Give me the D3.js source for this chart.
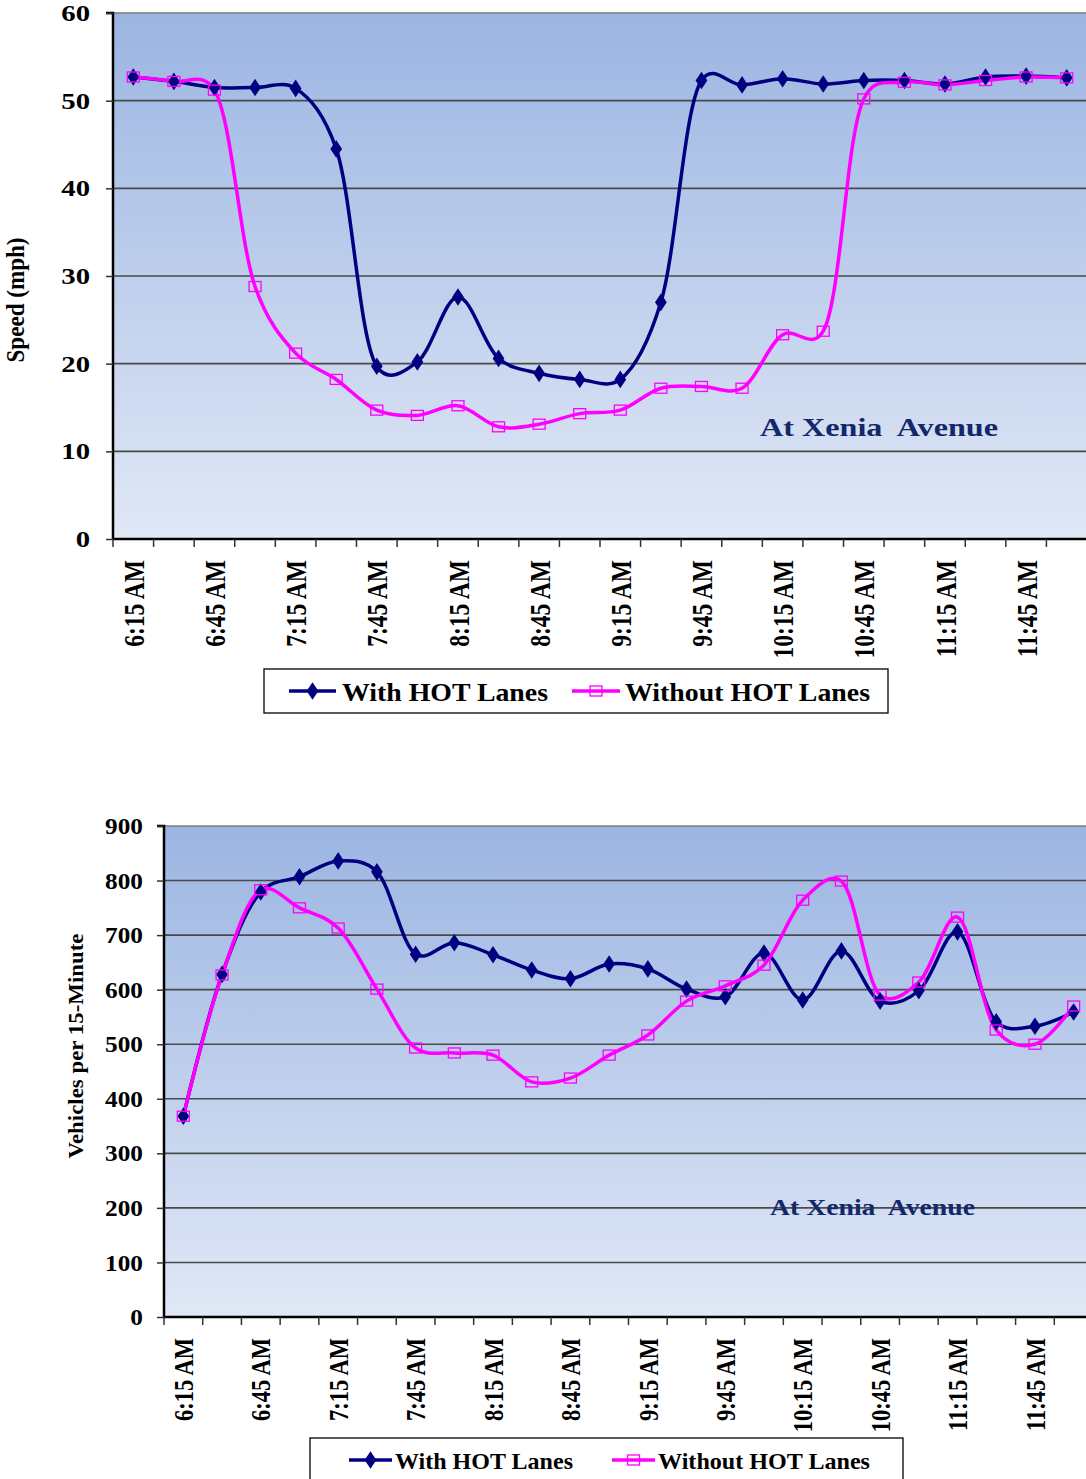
<!DOCTYPE html>
<html>
<head>
<meta charset="utf-8">
<script src="https://cdn.jsdelivr.net/npm/d3@7/dist/d3.min.js"></script>
<style>
  html, body { margin: 0; padding: 0; background: #ffffff; }
  svg { display: block; }
  text { font-family: "Liberation Serif", "Times New Roman", serif; font-weight: bold; }
</style>
</head>
<body>
<svg id="chart" width="1086" height="1479"></svg>
<script>
// ---------- DATA ----------
const times = ["6:15 AM","6:30 AM","6:45 AM","7:00 AM","7:15 AM","7:30 AM","7:45 AM","8:00 AM",
  "8:15 AM","8:30 AM","8:45 AM","9:00 AM","9:15 AM","9:30 AM","9:45 AM","10:00 AM",
  "10:15 AM","10:30 AM","10:45 AM","11:00 AM","11:15 AM","11:30 AM","11:45 AM","12:00 PM"];

const speedWith    = [52.7,52.2,51.5,51.5,51.4,44.5,19.7,20.2,27.6,20.6,18.9,18.2,
                      18.2,27.0,52.3,51.8,52.5,51.9,52.3,52.3,51.9,52.7,52.8,52.6];
const speedWithout = [52.7,52.2,51.2,28.8,21.2,18.2,14.7,14.1,15.2,12.8,13.1,14.3,
                      14.7,17.2,17.4,17.2,23.3,23.7,50.2,52.1,51.8,52.3,52.7,52.6];

const volWith    = [368,628,779,807,836,816,665,686,664,636,620,647,
                    638,601,587,667,581,671,579,598,706,541,533,559];
const volWithout = [368,627,783,750,713,601,493,484,480,431,438,480,
                    517,579,607,645,764,799,590,614,733,526,500,570];

const speedTicks = [0,10,20,30,40,50,60];
const volTicks   = [0,100,200,300,400,500,600,700,800,900];
const seriesNames = ["With HOT Lanes","Without HOT Lanes"];
const annotation = "At Xenia  Avenue";

// ---------- STYLE ----------
const NAVY = "#000080", MAGENTA = "#FF00FF";
const svg = d3.select("#chart");
const defs = svg.append("defs");
const grad = defs.append("linearGradient").attr("id","bg").attr("x1",0).attr("y1",0).attr("x2",0).attr("y2",1);
grad.append("stop").attr("offset","0%").attr("stop-color","#9BB5E2");
grad.append("stop").attr("offset","100%").attr("stop-color","#E1E8F6");

function stretchedText(g, x, y, str, opts) {
  const t = g.append("text")
    .attr("transform", `translate(${x},${y}) scale(${opts.sx||1},1)${opts.rotate?` rotate(${opts.rotate})`:""}`)
    .attr("font-size", opts.size)
    .attr("text-anchor", opts.anchor || "start")
    .attr("fill", opts.fill || "#000")
    .style("white-space","pre")
    .text(str);
  if (opts.dy) t.attr("dy", opts.dy);
  if (opts.length) t.attr("textLength", opts.length).attr("lengthAdjust","spacingAndGlyphs");
  return t;
}

function drawChart(cfg) {
  const g = svg.append("g");
  const x = d3.scaleBand().domain(times).range([cfg.left, cfg.right]).paddingInner(0).paddingOuter(0);
  const y = d3.scaleLinear().domain([0, cfg.max]).range([cfg.bottom, cfg.top]);
  const cx = d => x(d) + x.bandwidth()/2;

  // background
  g.append("rect").attr("x", cfg.left).attr("y", cfg.top)
    .attr("width", cfg.right - cfg.left).attr("height", cfg.bottom - cfg.top)
    .attr("fill", "url(#bg)");

  // gridlines
  g.selectAll(".grid").data(cfg.ticks.filter(v => v > 0)).join("line")
    .attr("x1", cfg.left).attr("x2", cfg.right)
    .attr("y1", d => y(d)).attr("y2", d => y(d))
    .attr("stroke", d => d === cfg.max ? "#7a7a7a" : "#4a4a4a")
    .attr("stroke-width", 1.6);

  // y axis
  const yAxis = d3.axisLeft(y).tickValues(cfg.ticks).tickSize(7).tickFormat("");
  const ya = g.append("g").attr("transform", `translate(${cfg.left},0)`).call(yAxis);
  ya.select(".domain").attr("stroke","#000").attr("stroke-width",2.5).attr("d", `M-7,${cfg.top}H0V${cfg.bottom}`);
  ya.selectAll(".tick line").attr("stroke","#333").attr("stroke-width",1.5);
  cfg.ticks.forEach(v => {
    stretchedText(g, cfg.ytickX, y(v), String(v), {size: cfg.ytickSize, sx: cfg.ytickSx, anchor: "end", dy: "0.35em"});
  });

  // x axis
  const bounds = times.map(t => x(t)).concat([cfg.right]);
  g.append("line").attr("x1", cfg.left).attr("x2", cfg.right)
    .attr("y1", cfg.bottom).attr("y2", cfg.bottom).attr("stroke","#000").attr("stroke-width",2.5);
  g.selectAll(".xt").data(bounds).join("line")
    .attr("x1", d => d).attr("x2", d => d)
    .attr("y1", cfg.bottom).attr("y2", cfg.bottom + 8)
    .attr("stroke","#333").attr("stroke-width",1.5);
  times.forEach((t, i) => {
    if (i % 2 === 0) {
      stretchedText(g, cx(t), cfg.xlabY, t, {size: cfg.xlabSize, sx: cfg.xlabSx, anchor: "end", rotate: -90, dy: "0.36em"});
    }
  });

  // lines
  const line = d3.line().x((d, i) => cx(times[i])).y(d => y(d)).curve(d3.curveCatmullRom.alpha(0.25));
  g.append("path").datum(cfg.s1).attr("d", line).attr("fill","none").attr("stroke",NAVY).attr("stroke-width",3.5);
  g.append("path").datum(cfg.s2).attr("d", line).attr("fill","none").attr("stroke",MAGENTA).attr("stroke-width",3.5);

  // markers
  const diamond = d3.symbol().type(d3.symbolDiamond).size(90);
  g.selectAll(".dm").data(cfg.s1).join("path")
    .attr("transform", (d, i) => `translate(${cx(times[i])},${y(d)}) scale(1.15,1)`)
    .attr("d", diamond).attr("fill", NAVY);
  g.selectAll(".sq").data(cfg.s2).join("rect")
    .attr("x", (d, i) => cx(times[i]) - 6).attr("y", d => y(d) - 5)
    .attr("width", 12).attr("height", 10)
    .attr("fill","none").attr("stroke",MAGENTA).attr("stroke-width",1.3);

  // y title
  stretchedText(g, cfg.ytitleX, cfg.ytitleY, cfg.ytitle, {size: cfg.ytitleSize, sx: cfg.ytitleSx, anchor: "middle", rotate: -90, dy: "0.35em", length: cfg.ytitleLen});

  // annotation
  stretchedText(g, cfg.annX, cfg.annY, annotation, {size: cfg.annSize, anchor: "start", fill: "#13286A", length: cfg.annLen});

  // legend
  const L = cfg.legend;
  g.append("rect").attr("x", L.x).attr("y", L.y).attr("width", L.w).attr("height", L.h)
    .attr("fill","#fff").attr("stroke","#000").attr("stroke-width",1.3);
  const ly = L.y + L.lineDy;
  g.append("line").attr("x1", L.l1[0]).attr("x2", L.l1[1]).attr("y1", ly).attr("y2", ly).attr("stroke",NAVY).attr("stroke-width",3.5);
  g.append("path").attr("transform", `translate(${(L.l1[0]+L.l1[1])/2},${ly}) scale(1.15,1)`).attr("d", diamond).attr("fill",NAVY);
  g.append("line").attr("x1", L.l2[0]).attr("x2", L.l2[1]).attr("y1", ly).attr("y2", ly).attr("stroke",MAGENTA).attr("stroke-width",3.5);
  g.append("rect").attr("x", (L.l2[0]+L.l2[1])/2 - 6).attr("y", ly - 5).attr("width", 12).attr("height", 10)
    .attr("fill","none").attr("stroke",MAGENTA).attr("stroke-width",1.3);
  stretchedText(g, L.t1[0], L.base, seriesNames[0], {size: L.size, length: L.t1[1]});
  stretchedText(g, L.t2[0], L.base, seriesNames[1], {size: L.size, length: L.t2[1]});
}

drawChart({
  left: 113, right: 1087, top: 13, bottom: 539, max: 60, ticks: speedTicks,
  s1: speedWith, s2: speedWithout,
  ytickX: 90, ytickSize: 23, ytickSx: 1.25,
  xlabY: 560, xlabSize: 23.5, xlabSx: 1.25,
  ytitle: "Speed (mph)", ytitleX: 16, ytitleY: 300, ytitleSize: 22, ytitleSx: 1.1, ytitleLen: 125,
  annX: 760, annY: 436, annSize: 26, annLen: 238,
  legend: {x: 264, y: 669, w: 624, h: 44, lineDy: 22, base: 701, size: 25,
           l1: [289, 336], l2: [572, 620], t1: [342, 206], t2: [625, 245]}
});

drawChart({
  left: 164, right: 1093, top: 826, bottom: 1317, max: 900, ticks: volTicks,
  s1: volWith, s2: volWithout,
  ytickX: 143, ytickSize: 23, ytickSx: 1.1,
  xlabY: 1338, xlabSize: 22.5, xlabSx: 1.2,
  ytitle: "Vehicles per 15-Minute", ytitleX: 76, ytitleY: 1046, ytitleSize: 21, ytitleSx: 1.0, ytitleLen: 225,
  annX: 770, annY: 1215, annSize: 24, annLen: 205,
  legend: {x: 310, y: 1438, w: 593, h: 60, lineDy: 22, base: 1469, size: 23,
           l1: [349, 392], l2: [612, 655], t1: [395, 178], t2: [658, 212]}
});
</script>
</body>
</html>
